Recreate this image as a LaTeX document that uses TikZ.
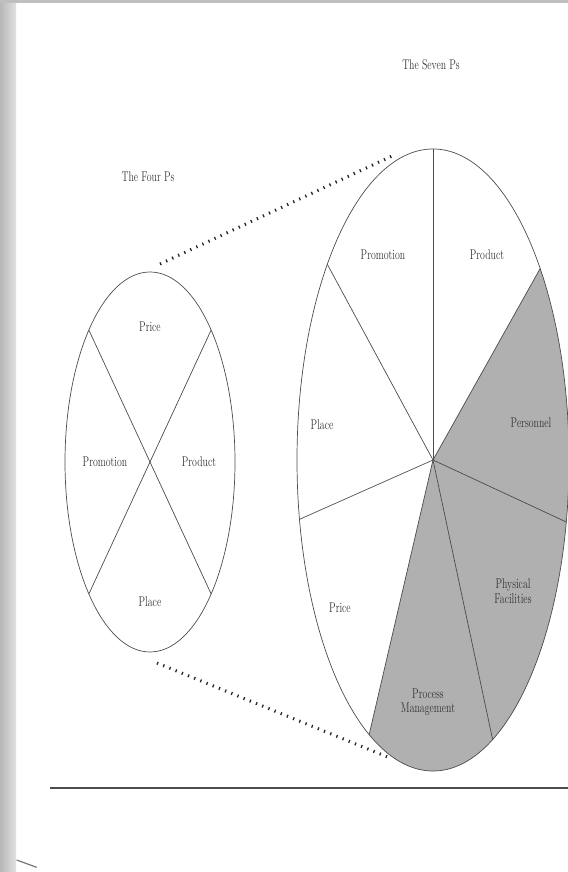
\documentclass[tikz,border=0pt]{standalone}
\usepackage{tikz}

\begin{document}
\begin{tikzpicture}[
  rim/.style={draw=black!70,line width=0.6pt},
  greyfill/.style={fill=black!31},
  lbl/.style={text=black!80,font=\fontsize{12}{12.5}\selectfont,
    xscale=0.7,transform shape,align=center,inner sep=0pt},
  zoomline/.style={black!85,line width=2.6pt,dash pattern=on 1.1pt off 4.6pt}
]
\useasboundingbox (0,0) rectangle (17.04,26.16);

% 紙の縁
\fill[left color=black!28,right color=black!12] (0,0) rectangle (0.48,26.16);
\fill[black!25] (0,26.06) rectangle (17.04,26.16);
\draw[black!55,line width=1pt] (0.5,0.36) -- (1.1,0.14);

%--------------------
% 4つのP
%--------------------
\node[lbl] (FourTitle) at (4.44,20.85) {The Four Ps};

\begin{scope}[shift={(4.5,12.3)}]
  \coordinate (FourC) at (0,0);
  \draw[rim] (FourC) ellipse (2.55 and 5.7);

  % 仕切り
  \draw[rim] (44:2.55 and 5.7) -- (224:2.55 and 5.7);
  \draw[rim] (136:2.55 and 5.7) -- (316:2.55 and 5.7);

  \node[lbl] (FourPrice) at (0,4.05) {Price};
  \node[lbl] (FourPromo) at (-1.35,0) {Promotion};
  \node[lbl] (FourProd) at (1.47,0) {Product};
  \node[lbl] (FourPlace) at (0,-4.2) {Place};
\end{scope}

%--------------------
% 7つのP
%--------------------
\node[lbl] (SevenTitle) at (12.93,24.21) {The Seven Ps};

\begin{scope}[shift={(12.99,12.36)}]
  \coordinate (SevenC) at (0,0);

  % 追加された3つ
  \fill[greyfill] (SevenC) -- (242:4.08 and 9.33)
    arc[start angle=242,end angle=398,x radius=4.08,y radius=9.33] -- cycle;

  \draw[rim] (SevenC) ellipse (4.08 and 9.33);

  % 仕切り
  \foreach \a in {90,141,191,242,296,348.5,398}
    \draw[rim] (SevenC) -- (\a:4.08 and 9.33);

  \node[lbl] (SevenPromo) at (-1.5,6.15) {Promotion};
  \node[lbl] (SevenProd) at (1.62,6.15) {Product};
  \node[lbl] (SevenPlace) at (-3.33,1.05) {Place};
  \node[lbl] (SevenPers) at (2.94,1.11) {Personnel};
  \node[lbl] (SevenPrice) at (-2.79,-4.44) {Price};
  \node[lbl] (SevenPhys) at (2.4,-3.93) {Physical\\Facilities};
  \node[lbl] (SevenProc) at (-0.15,-7.26) {Process\\Management};
\end{scope}

% 拡大の点線
\coordinate (ZoomA) at (4.8,18.24);
\coordinate (ZoomB) at (11.76,21.48);
\coordinate (ZoomC) at (4.71,6.27);
\coordinate (ZoomD) at (11.7,3.42);

\draw[zoomline] (ZoomA) -- (ZoomB);
\draw[zoomline] (ZoomC) -- (ZoomD);

% 下の罫線
\draw[black!70,line width=0.9pt] (1.5,2.52) -- (17.04,2.52);

\end{tikzpicture}
\end{document}
